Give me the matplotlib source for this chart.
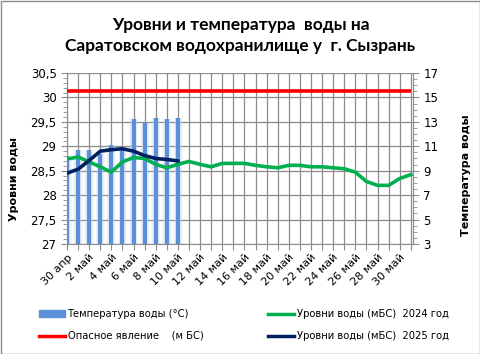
import matplotlib
matplotlib.use("Agg")
import matplotlib.pyplot as plt
from matplotlib.ticker import MultipleLocator, FixedLocator
from matplotlib.lines import Line2D
from matplotlib.patches import Patch
import numpy as np

dates = ["30 апр"] + [f"{d} май" for d in range(1, 32)]

temp_2025 = [10.2, 10.7, 10.7, 10.4, 11.1, 10.85, 13.2, 12.9, 13.3, 13.2, 13.3]
level_2025 = [28.45, 28.53, 28.71, 28.90, 28.93, 28.95, 28.90, 28.81, 28.75, 28.73, 28.70]
level_2024 = [28.74, 28.78, 28.68, 28.58, 28.47, 28.68, 28.77, 28.75, 28.63, 28.56,
              28.63, 28.69, 28.63, 28.58, 28.65, 28.65, 28.65, 28.61, 28.58, 28.56,
              28.61, 28.61, 28.58, 28.58, 28.56, 28.54, 28.47, 28.28, 28.20, 28.20,
              28.34, 28.42]
danger_level = 30.13

level_ticks = [27, 27.5, 28, 28.5, 29, 29.5, 30, 30.5]
temp_ticks = [3, 5, 7, 9, 11, 13, 15, 17]

plt.rcParams['font.family'] = ['DejaVu Sans']

fig = plt.figure(figsize=(4.81, 3.54), dpi=100)
fig.patch.set_facecolor('white')
ax = fig.add_axes([67/481, 1-244/354, (413-67)/481, (244-73)/354])
ax2 = ax.twinx()
ax.set_zorder(ax2.get_zorder() + 1)
ax.patch.set_visible(False)
ax2.set_facecolor('#f2f2f2')

x_all = np.arange(len(dates))
x_t = np.arange(len(temp_2025))

# bars with soft halo on the right axis
for w, a in [(0.85, 0.12), (0.7, 0.16), (0.56, 0.22), (0.46, 0.3)]:
    ax2.bar(x_t, np.array(temp_2025) - 3, bottom=3, width=w, color='#b8cdee', alpha=a, linewidth=0, zorder=2)
ax2.bar(x_t, np.array(temp_2025) - 3, bottom=3, width=0.36, color='#5b8fd6', linewidth=0, zorder=3)

ax2.set_ylim(3, 17)
ax2.yaxis.set_major_locator(FixedLocator(temp_ticks))
ax2.yaxis.set_minor_locator(MultipleLocator(0.5))

# lines on left axis
ax.plot([0, 31], [danger_level, danger_level], color='#ff0000', lw=2.6, solid_capstyle='butt', zorder=5)
ax.plot(x_all, level_2024, color='#00b050', lw=2.6, zorder=5)
ax.plot(x_t, level_2025, color='#002060', lw=2.6, zorder=6)

ax.set_ylim(27, 30.5)
ax.set_xlim(0, 31.2)
ax.yaxis.set_major_locator(FixedLocator(level_ticks))
ax.yaxis.set_minor_locator(MultipleLocator(0.1))
ax.set_yticklabels([f"{v:g}".replace('.', ',') for v in level_ticks])

ax.set_xticks(x_all)
ax.set_xticklabels([d if i % 2 == 0 else "" for i, d in enumerate(dates)],
                   rotation=45, ha='right', rotation_mode='anchor', fontsize=8)

# gridlines on background axis
ax2.set_xlim(0, 31.2)
for v in x_all:
    ax2.axvline(v, color='#8c8c8c', lw=0.9, zorder=1)
for v in level_ticks:
    ax2.axhline(3 + (v - 27) * 4, color='#8c8c8c', lw=0.9, zorder=1)

for a in (ax, ax2):
    for s in a.spines.values():
        s.set_visible(False)
    a.tick_params(which='both', colors='#8c8c8c', labelcolor='black', labelsize=8.5)
    a.tick_params(which='major', length=4)
    a.tick_params(which='minor', length=3)
ax.spines['left'].set_visible(True)
ax.spines['left'].set_color('#8c8c8c')
ax.spines['bottom'].set_visible(True)
ax.spines['bottom'].set_color('#8c8c8c')
ax2.spines['right'].set_visible(True)
ax2.spines['right'].set_color('#8c8c8c')
ax.tick_params(axis='x', labelsize=8, pad=2)

ax.set_ylabel("Уровни воды", fontsize=8, fontweight='bold')
ax.yaxis.set_label_coords((19 - 67) / (413 - 67), (244 - 179) / (244 - 73))
ax2.set_ylabel("Температура воды", fontsize=8, fontweight='bold', rotation=90)
ax2.yaxis.set_label_coords((461 - 67) / (413 - 67), (244 - 175) / (244 - 73))

fig.text(0.5, 1-25/354, "Уровни и температура  воды на", ha='center', va='center',
         fontsize=12.5, fontweight='bold', family='Lato')
fig.text(0.5, 1-46/354, "Саратовском водохранилище у  г. Сызрань", ha='center', va='center',
         fontsize=12.5, fontweight='bold', family='Lato')

handles = [Patch(color='#5b8fd6'),
           Line2D([], [], color='#ff0000', lw=2.5),
           Line2D([], [], color='#00b050', lw=2.5),
           Line2D([], [], color='#002060', lw=2.5)]
labels = ["Температура воды (°C)", "Опасное явление    (м БС)",
          "Уровни воды (мБС)  2024 год", "Уровни воды (мБС)  2025 год"]
leg = fig.legend(handles, labels, ncol=2, loc='upper left', bbox_to_anchor=(30/481, 1-300/354),
                 frameon=False, fontsize=7.2, columnspacing=6.5, handlelength=2.6,
                 handletextpad=0.25, labelspacing=1.2)

border = plt.Rectangle((0.5/481, 0.5/354), 1-1/481, 1-1/354, transform=fig.transFigure,
                       fill=False, edgecolor='#8c8c8c', lw=1)
fig.patches.append(border)

fig.savefig("out.png", dpi=100, facecolor='white')
